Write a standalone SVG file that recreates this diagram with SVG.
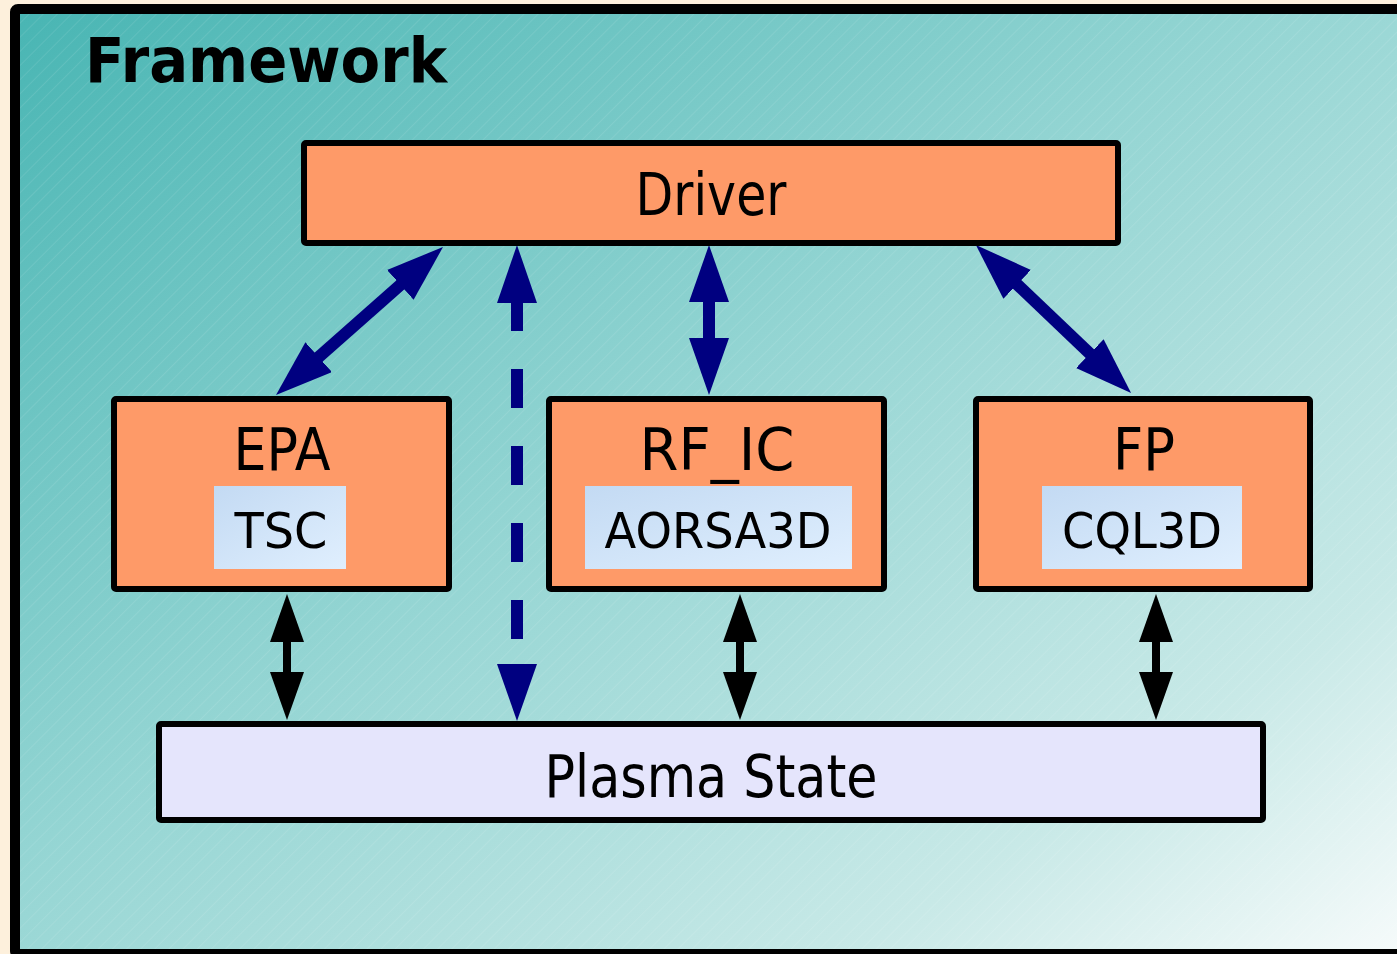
<svg xmlns="http://www.w3.org/2000/svg" width="1397" height="954" viewBox="0 0 1397 954">
<style>
.box{fill:#fe9a68;stroke:#000;stroke-width:6}
.inner{fill:url(#ib);stroke:none}
.t{font-family:"DejaVu Sans","Liberation Sans",sans-serif;fill:#000;text-anchor:middle}
.big{font-size:58px}
.sm{font-size:50px}
.nv{stroke:#000080;stroke-width:12;fill:none}
.bk{stroke:#000;stroke-width:8;fill:none}
</style>
<defs>
<linearGradient id="bg" x1="0" y1="0" x2="1" y2="1">
<stop offset="0" stop-color="#48b5b3"/>
<stop offset="0.45" stop-color="#94d5d3"/>
<stop offset="0.8" stop-color="#c8e9e7"/>
<stop offset="1" stop-color="#f7fbfb"/>
</linearGradient>
<linearGradient id="ib" x1="0" y1="0" x2="1" y2="1">
<stop offset="0" stop-color="#c3daf3"/>
<stop offset="1" stop-color="#e0effe"/>
</linearGradient>
<pattern id="hatch" width="10" height="10" patternUnits="userSpaceOnUse" patternTransform="rotate(45)">
<line x1="0" y1="0" x2="0" y2="10" stroke="#ffffff" stroke-width="1" stroke-opacity="0.18"/>
</pattern>
<marker id="hn" viewBox="0 0 57 40" refX="12" refY="20" markerWidth="57" markerHeight="40" markerUnits="userSpaceOnUse" orient="auto-start-reverse">
<path d="M0,0 L57,20 L0,40 z" fill="#000080"/>
</marker>
<marker id="hb" viewBox="0 0 48 34" refX="10" refY="17" markerWidth="48" markerHeight="34" markerUnits="userSpaceOnUse" orient="auto-start-reverse">
<path d="M0,0 L48,17 L0,34 z" fill="#000"/>
</marker>
</defs>
<rect x="0" y="0" width="1397" height="954" fill="#fdf0dc"/>
<g id="frame">
<rect x="15" y="9" width="1400" height="945" rx="3" fill="url(#bg)" stroke="#000" stroke-width="10"/>
<rect x="20" y="14" width="1390" height="935" fill="url(#hatch)"/>
<text x="85" y="82" font-family="DejaVu Sans,Liberation Sans,sans-serif" font-weight="bold" font-size="62" textLength="362" lengthAdjust="spacingAndGlyphs">Framework</text>
</g>
<g id="connectors">
<line class="nv" x1="409.3" y1="276.9" x2="309.7" y2="365.1" marker-start="url(#hn)" marker-end="url(#hn)"/>
<line class="nv" x1="709" y1="290" x2="709" y2="350" marker-start="url(#hn)" marker-end="url(#hn)"/>
<line class="nv" x1="1008.5" y1="276.1" x2="1098.5" y2="361.9" marker-start="url(#hn)" marker-end="url(#hn)"/>
<line class="nv" x1="517" y1="292" x2="517" y2="639" stroke-dasharray="39 38"/>
<path d="M497,303 L517,245 L537,303 z" fill="#000080"/>
<path d="M497,664 L517,721 L537,664 z" fill="#000080"/>
<line class="bk" x1="287" y1="632" x2="287" y2="682" marker-start="url(#hb)" marker-end="url(#hb)"/>
<line class="bk" x1="740" y1="632" x2="740" y2="682" marker-start="url(#hb)" marker-end="url(#hb)"/>
<line class="bk" x1="1156" y1="632" x2="1156" y2="682" marker-start="url(#hb)" marker-end="url(#hb)"/>
</g>
<g id="driver">
<rect class="box" x="304" y="143" width="814" height="100" rx="2"/>
<text class="t big" x="711" y="215" textLength="151" lengthAdjust="spacingAndGlyphs">Driver</text>
</g>
<g id="epa">
<rect class="box" x="114" y="399" width="335" height="190" rx="2"/>
<text class="t big" x="282" y="470" textLength="97" lengthAdjust="spacingAndGlyphs">EPA</text>
<rect class="inner" x="214" y="486" width="132" height="83"/>
<text class="t sm" x="281" y="548" textLength="93" lengthAdjust="spacingAndGlyphs">TSC</text>
</g>
<g id="rf_ic">
<rect class="box" x="549" y="399" width="335" height="190" rx="2"/>
<text class="t big" x="717" y="470" textLength="155" lengthAdjust="spacingAndGlyphs">RF_IC</text>
<rect class="inner" x="585" y="486" width="267" height="83"/>
<text class="t sm" x="718" y="548" textLength="227" lengthAdjust="spacingAndGlyphs">AORSA3D</text>
</g>
<g id="fp">
<rect class="box" x="976" y="399" width="334" height="190" rx="2"/>
<text class="t big" x="1144" y="470" textLength="62" lengthAdjust="spacingAndGlyphs">FP</text>
<rect class="inner" x="1042" y="486" width="200" height="83"/>
<text class="t sm" x="1142" y="548" textLength="160" lengthAdjust="spacingAndGlyphs">CQL3D</text>
</g>
<g id="plasma">
<rect x="159" y="724" width="1104" height="96" rx="2" fill="#e5e5fc" stroke="#000" stroke-width="6"/>
<text class="t big" x="711" y="797" textLength="333" lengthAdjust="spacingAndGlyphs">Plasma State</text>
</g>
</svg>
